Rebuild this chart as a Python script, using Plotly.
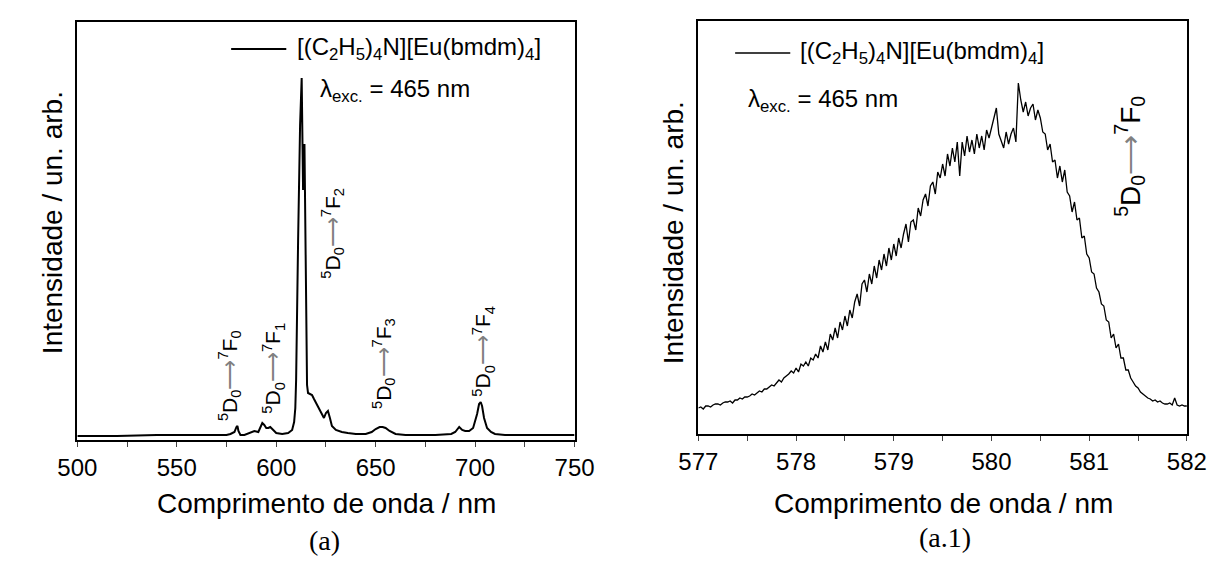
import plotly.graph_objects as go

# ---------------- data: panel (a) full emission spectrum ----------------
wl_a = [500, 520, 540, 560, 570, 575, 577, 579, 580, 580.5, 581, 582, 584, 587, 589,
        591, 592, 593, 594, 595, 596, 597, 598, 600, 603, 606, 608, 609, 609.6, 610,
        611, 612, 612.8, 613.5, 614.2, 614.6, 615, 615.5, 616, 617, 618, 619, 620, 621,
        622, 623, 624, 625, 626, 627, 628, 630, 633, 636, 640, 645, 648, 650, 652,
        653.5, 655, 657, 660, 665, 670, 680, 688, 690, 692, 693.5, 695, 697, 699, 700,
        701, 702, 702.8, 703.5, 704.5, 706, 708, 710, 715, 720, 730, 740, 750]
int_a = [4, 4, 5, 5, 5, 5, 6, 8, 13, 14, 9, 5, 5, 7, 9,
         8, 13, 17, 15, 12, 12, 13, 11, 7, 6, 7, 10, 18, 32, 60,
         199, 315, 362, 250, 296, 200, 95, 55, 47, 46, 45, 41, 37, 34,
         30, 25, 22, 27, 29, 22, 14, 10, 8, 7, 6, 6, 8, 11, 13,
         13, 12, 9, 6, 5, 5, 5, 6, 8, 13, 10, 9, 9, 12, 18,
         26, 36, 38, 34, 22, 12, 8, 6, 5, 5, 5, 5, 5]

# ---------------- data: panel (a.1) 5D0 -> 7F0 detail ----------------
wl_start = 577.0
wl_step = 0.025
int_b = [26, 27, 25, 28, 28, 27, 29, 30, 30, 29, 31, 32, 32, 33, 31, 34,
         34, 36, 35, 37, 37, 38, 40, 39, 41, 43, 42, 45, 45, 47, 49, 48,
         51, 54, 52, 56, 58, 60, 63, 61,
         66, 62, 70, 68, 72, 68, 76, 74, 80, 76, 88, 82, 92, 84, 100, 94,
         106, 96, 112, 104, 118, 108, 124, 116, 132, 140, 128, 150, 154, 142, 160, 150,
         168, 156, 174, 164, 180, 168, 186, 174, 190, 178, 196, 186, 200, 210, 192, 212,
         214, 204, 226, 218, 234, 240, 228, 248, 252, 240, 262, 256, 270, 258, 280, 268,
         286, 272, 292, 258, 292, 278, 298, 282, 294, 280, 300, 286, 298, 284, 304, 296,
         306, 316, 326, 300, 292, 286, 302, 290, 300, 306, 292, 351, 334, 322, 332, 318,
         326, 330, 314, 324, 316, 302, 300, 284, 290, 272, 274, 256, 268, 252, 264, 242,
         238, 222, 232, 214, 216, 196, 198, 180, 176, 162, 160, 146, 142, 130, 128, 114,
         112, 96, 100, 86, 90, 76, 76, 64,
         64, 56, 52, 48, 46, 42, 40, 38, 36, 35, 33, 34, 32, 33, 31, 30,
         30, 31, 29, 36, 29, 28, 29, 28, 28]
wl_b = [round(wl_start + i * wl_step, 3) for i in range(len(int_b))]

xticks_a = [500, 550, 600, 650, 700, 750]
xticks_b = [577, 578, 579, 580, 581, 582]

legend_name = "[(C<sub>2</sub>H<sub>5</sub>)<sub>4</sub>N][Eu(bmdm)<sub>4</sub>]"
exc_text = "λ<sub>exc.</sub> = 465 nm"
ARROW = "<span style='color:#808080'>⟶</span>"
transitions_a = [
    ("0", 576.8, 64),
    ("1", 598.7, 72),
    ("2", 628.4, 207),
    ("3", 654.2, 76),
    ("4", 704.3, 89),
]

FONT = "Liberation Sans, Arial, sans-serif"
SERIF = "Liberation Serif, Times New Roman, serif"
W, H = 1225, 563


def px(x):
    return x / W


def py(y):
    return 1 - y / H


fig = go.Figure()
fig.add_trace(go.Scatter(x=wl_a, y=int_a, mode="lines", line=dict(color="black", width=2),
                         showlegend=False, xaxis="x", yaxis="y"))
fig.add_trace(go.Scatter(x=wl_b, y=int_b, mode="lines", line=dict(color="black", width=1.3),
                         showlegend=False, xaxis="x2", yaxis="y2"))

axis_common = dict(showline=True, linecolor="black", linewidth=1.5, mirror=True,
                   showgrid=False, zeroline=False)
fig.update_layout(
    width=W, height=H,
    margin=dict(l=0, r=0, t=0, b=0),
    paper_bgcolor="white", plot_bgcolor="white",
    font=dict(family=FONT, color="black"),
    xaxis=dict(domain=[px(51), px(565)], range=[500, 750], anchor="y",
               tickvals=xticks_a, ticks="outside", ticklen=5, tickwidth=1.2,
               tickfont=dict(size=24, family=FONT),
               minor=dict(dtick=25, ticks="outside", ticklen=5, tickwidth=1.2),
               **axis_common),
    yaxis=dict(domain=[py(432), py(14)], range=[0, 418], anchor="x",
               showticklabels=False, ticks="", **axis_common),
    xaxis2=dict(domain=[px(693), px(1198)], range=[577, 582], anchor="y2",
                tickvals=xticks_b, ticks="outside", ticklen=5, tickwidth=1.2,
                tickfont=dict(size=24, family=FONT),
                minor=dict(dtick=0.5, ticks="outside", ticklen=5, tickwidth=1.2),
                **axis_common),
    yaxis2=dict(domain=[py(426), py(13)], range=[0, 413], anchor="x2",
                showticklabels=False, ticks="", **axis_common),
)

ann = []


def note(text, x, y, size, xanchor="center", angle=0, family=FONT, xref="paper", yref="paper"):
    ann.append(dict(text=text, x=x, y=y, xref=xref, yref=yref, xanchor=xanchor,
                    yanchor="middle", textangle=angle, showarrow=False,
                    font=dict(size=size, family=family)))


# axis titles
note("Intensidade / un. arb.", px(26), py(215), 28, angle=-90)
note("Intensidade / un. arb.", px(667), py(225), 28, angle=-90)
note("Comprimento de onda / nm", px(309), py(495), 28)
note("Comprimento de onda / nm", px(946), py(495), 28)
note("(a)", px(306), py(532), 28, family=SERIF)
note("(a.1)", px(948), py(529), 28, family=SERIF)

# legend text + excitation
note(legend_name, px(276), py(41), 24, xanchor="left")
note(exc_text, px(300), py(83), 24, xanchor="left")
note(legend_name, px(796), py(45), 24, xanchor="left")
note(exc_text, px(742), py(92), 24, xanchor="left")

# transition labels panel (a)
for sub, xv, yv in transitions_a:
    note(f"<sup>5</sup>D<sub>0</sub>{ARROW}<sup>7</sup>F<sub>{sub}</sub>", xv, yv, 21,
         angle=-90, xref="x", yref="y")
# transition label panel (a.1)
note(f"<sup>5</sup>D<sub>0</sub>{ARROW}<sup>7</sup>F<sub>0</sub>", px(1139), py(148), 28,
     angle=-90)
fig.update_layout(annotations=ann)

# legend line samples
fig.add_shape(type="line", xref="paper", yref="paper", x0=px(210), x1=px(267),
              y0=py(41), y1=py(41), line=dict(color="black", width=2))
fig.add_shape(type="line", xref="paper", yref="paper", x0=px(731), x1=px(788),
              y0=py(45), y1=py(45), line=dict(color="black", width=1.3))

fig.write_html("out.html")
